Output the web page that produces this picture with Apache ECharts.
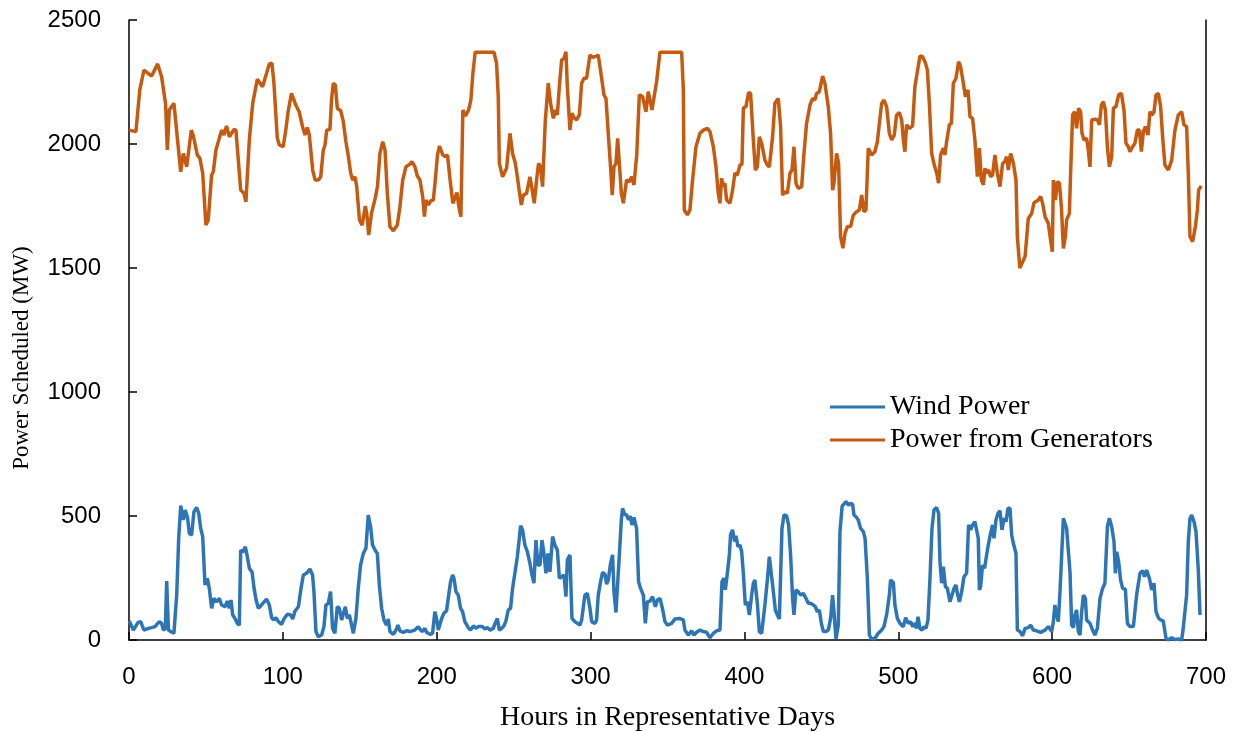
<!DOCTYPE html>
<html>
<head>
<meta charset="utf-8">
<script src="https://cdn.jsdelivr.net/npm/echarts@6/dist/echarts.min.js"></script>
<style>html,body{margin:0;padding:0;background:#fff}#c{width:1239px;height:732px}</style>
</head>
<body>
<div id="c"></div>
<script>
const seriesNames = ['Wind Power', 'Power from Generators'];
const xTicks = [0, 100, 200, 300, 400, 500, 600, 700];
const yTicks = [0, 500, 1000, 1500, 2000, 2500];

const windHours = [0.2,2.8,5.9,7.6,9.7,12.6,14.7,16.9,19.7,21.2,22.3,23.6,24.5,25.6,27.1,29.2,31.0,32.3,33.6,35.3,36.6,38.1,39.2,40.7,42.2,44.0,45.3,46.6,47.9,49.4,50.9,52.2,53.7,55.2,57.0,58.7,60.2,62.4,63.9,65.2,66.3,67.4,68.9,70.4,71.7,72.6,73.9,75.6,76.9,78.2,80.0,81.3,82.6,84.1,85.6,87.8,89.4,91.2,92.7,94.2,95.5,97.1,99.2,100.7,102.9,105.1,106.4,107.9,110.1,111.6,113.3,115.4,117.6,119.3,120.2,121.5,123.0,125.2,126.7,128.0,129.5,131.0,132.3,133.8,135.4,136.7,138.2,139.3,140.6,141.9,143.2,144.7,145.8,147.5,149.0,150.5,152.3,154.0,155.5,157.0,158.3,159.9,161.4,162.7,164.2,165.7,167.4,168.5,169.6,171.8,173.5,174.8,176.1,178.3,180.4,182.6,185.8,188.0,189.5,190.8,192.3,193.4,195.6,197.3,198.8,199.9,201.0,203.2,204.7,206.4,207.5,209.0,210.3,211.2,212.5,214.0,215.5,216.8,218.3,220.5,222.0,223.8,225.5,227.0,228.1,229.8,231.3,232.9,234.6,236.8,237.9,239.4,240.7,242.2,243.7,245.0,246.5,248.0,249.3,250.8,252.4,253.7,254.5,255.8,257.3,258.9,260.6,261.9,263.2,264.5,265.8,267.1,268.4,269.7,271.0,272.3,273.6,275.3,276.8,278.4,279.7,281.2,282.7,284.0,284.9,286.6,287.9,289.8,293.1,294.2,296.3,297.9,299.6,300.7,302.8,303.9,305.0,306.5,307.8,309.4,310.4,311.5,313.0,314.3,315.2,316.5,317.4,318.7,320.0,320.8,322.1,323.4,324.7,325.6,326.9,328.2,329.9,331.2,332.5,334.3,335.6,336.9,338.6,340.3,342.1,343.4,345.1,346.8,348.3,349.9,352.7,354.9,357.7,360.3,361.3,363.5,365.7,367.2,368.9,371.1,373.3,375.4,377.6,379.8,381.9,384.1,385.4,386.7,387.6,388.9,390.2,391.0,392.3,393.6,394.5,395.8,397.1,398.2,399.3,400.6,401.9,403.2,404.7,405.8,406.8,408.4,409.7,411.2,413.3,414.9,416.2,417.7,418.8,420.1,421.4,422.7,424.4,425.7,427.4,428.7,430.0,431.3,432.2,433.5,435.0,436.5,438.3,440.0,441.5,443.0,444.8,446.1,447.4,448.7,450.0,451.3,453.0,454.5,456.0,457.3,458.2,459.5,461.0,462.1,463.5,466.0,467.7,469.0,470.3,471.2,472.5,474.0,475.5,477.3,478.4,479.9,481.2,482.7,484.8,487.0,489.2,490.7,492.4,494.2,495.0,496.8,497.8,499.4,501.1,503.3,504.8,506.5,508.0,509.3,510.8,511.9,512.8,514.1,515.4,516.7,518.0,519.3,520.6,521.9,523.2,524.9,526.2,527.1,528.2,529.3,530.6,531.9,533.6,534.9,536.2,537.5,538.4,539.7,541.2,542.7,544.4,545.7,547.0,548.3,549.8,550.9,552.0,552.7,553.5,554.8,556.1,557.4,558.7,560.0,561.3,562.2,563.5,564.8,566.1,567.4,568.7,570.0,571.3,572.6,573.7,574.8,576.5,577.4,579.1,580.8,582.4,584.5,586.0,587.8,589.9,592.5,595.4,597.5,599.7,600.8,601.8,602.9,604.0,605.1,606.2,607.3,608.3,609.4,610.5,611.6,612.7,613.8,614.8,615.9,617.0,618.1,619.2,620.3,621.6,622.4,624.6,626.3,627.8,629.4,631.1,632.8,634.3,635.9,637.2,638.7,640.2,641.1,642.0,643.2,644.5,645.8,647.6,648.9,650.6,652.8,654.9,657.1,658.8,660.1,661.4,663.2,664.7,666.2,667.5,669.0,670.5,672.2,674.0,675.5,677.7,679.8,682.0,684.2,685.2,686.3,687.4,688.5,689.6,690.7,692.2,693.5,695.0,696.1];
const windMW = [77,40,71,74,40,47,50,54,74,67,40,47,238,40,34,27,181,410,542,484,524,491,430,423,517,534,511,450,417,222,249,208,128,168,154,168,141,134,157,128,161,101,87,67,60,363,354,376,336,289,273,208,161,128,138,154,165,141,90,81,90,74,63,85,104,101,85,117,134,200,262,269,286,262,195,34,13,20,54,141,148,195,47,27,134,128,81,81,134,87,101,60,27,87,208,302,349,370,504,457,383,363,349,222,128,81,60,85,34,23,40,60,37,31,37,34,40,54,40,34,47,31,23,27,114,87,40,87,108,118,168,235,262,249,195,181,128,114,74,50,40,57,47,54,47,54,44,50,40,47,67,87,40,47,57,77,121,128,208,269,336,410,461,444,383,356,309,262,229,403,302,302,403,349,269,349,275,417,383,363,249,255,262,175,323,343,87,74,60,81,181,188,128,74,67,81,181,235,273,265,225,242,309,343,195,111,114,343,484,531,507,504,484,501,464,494,450,235,208,181,67,154,157,175,134,161,168,125,75,60,67,85,87,81,40,20,37,20,31,40,34,31,9,27,37,40,235,249,202,269,343,426,444,397,420,376,383,356,269,141,154,101,181,229,242,148,34,27,141,242,336,255,195,121,101,85,450,504,501,464,343,168,101,202,195,181,188,168,148,148,141,134,114,121,67,34,34,40,87,181,114,4,60,437,540,558,544,551,547,504,497,484,450,437,410,249,20,4,7,27,40,54,101,181,242,232,141,87,67,54,90,67,74,54,67,47,94,47,40,54,47,81,249,450,524,534,511,316,229,296,215,208,154,181,208,222,188,154,195,255,269,464,444,464,477,480,410,202,215,302,289,343,390,430,464,410,484,511,521,444,491,477,531,531,423,390,349,40,34,17,47,50,60,40,37,31,40,54,34,74,141,101,74,195,343,491,497,450,457,275,60,50,101,121,34,20,114,181,168,81,67,40,20,47,168,208,229,457,491,457,397,269,356,316,242,208,205,67,54,54,181,269,279,255,282,249,202,229,114,90,81,77,7,0,9,2,4,0,47,54,181,397,491,504,477,437,282,101];

const genHours = [0,4.5,7.0,9.7,14.7,18.6,21.2,23.8,24.9,26.2,29.2,33.6,35.3,37.5,40.5,41.7,44.4,46.1,47.9,50.0,51.5,53.7,54.8,56.5,60.2,61.7,63.4,65.2,68.2,69.5,72.6,74.7,76.0,78.2,80.4,83.4,84.6,86.8,89.4,91.2,92.9,94.2,96.4,97.7,100.2,101.9,103.4,105.6,106.7,108.4,110.6,112.8,114.4,115.9,117.2,119.4,120.9,123.1,124.6,126.3,127.4,128.5,130.6,131.7,132.8,134.1,135.4,137.6,139.3,141.0,142.6,144.1,145.4,146.9,148.0,149.8,151.5,153.6,154.5,155.8,157.6,160.0,161.5,163.1,164.9,166.4,167.9,169.6,171.8,174.4,176.1,177.9,180.0,182.6,183.9,185.9,187.4,189.1,190.9,192.0,193.0,194.6,196.1,197.8,198.9,200.5,201.8,203.9,205.5,207.0,208.7,210.5,211.3,213.1,214.4,215.7,217.0,218.7,220.7,222.2,223.5,225.0,237.2,238.9,240.0,240.7,242.8,245.4,247.6,249.3,251.1,252.4,253.7,255.0,256.3,258.4,260.6,261.7,263.4,264.9,266.2,267.5,268.8,270.6,272.5,274.0,275.8,277.1,278.4,279.7,281.2,282.7,284.0,284.9,286.6,287.9,289.6,290.9,292.7,294.2,295.7,297.4,299.6,301.3,302.8,305.0,307.2,308.7,310.0,311.5,313.0,314.1,315.2,316.5,317.6,318.7,320.0,321.3,323.4,325.2,326.7,328.2,330.0,331.7,333.8,336.0,337.5,339.9,342.9,345.1,359.2,360.3,360.9,362.9,364.6,366.3,368.5,371.1,373.3,375.9,377.6,379.8,381.5,383.0,384.1,385.2,386.3,387.3,388.4,390.6,392.3,393.8,395.4,397.1,398.4,399.3,401.0,402.7,404.0,405.8,407.1,408.4,409.7,411.2,413.3,414.9,416.2,418.3,419.8,422.0,423.5,424.8,426.3,427.9,429.6,430.9,432.2,433.5,435.0,437.2,438.7,440.4,442.6,444.3,445.8,446.9,448.7,450.8,452.3,454.5,456.0,457.3,458.2,459.9,461.2,462.5,464.0,465.4,466.9,469.0,470.8,472.9,474.7,476.2,477.7,479.0,480.5,482.7,484.8,486.4,487.7,489.2,490.7,492.4,494.2,495.7,497.4,498.9,500.7,502.2,503.3,504.3,505.4,507.2,509.3,510.8,512.4,514.1,515.8,517.6,518.9,520.2,521.7,523.4,525.0,526.2,527.5,529.3,530.3,531.4,533.2,534.5,535.8,537.5,539.2,540.5,542.3,543.6,545.3,546.6,548.3,549.8,551.4,552.7,554.0,555.3,556.3,557.4,558.7,560.0,561.3,562.8,564.4,566.1,567.8,569.3,570.4,571.5,573.0,574.8,576.5,577.4,579.0,580.2,582.4,584.5,586.7,588.2,591.0,592.5,593.8,595.4,597.5,599.0,600.1,600.8,602.1,603.4,604.7,606.0,607.3,608.6,609.4,611.2,612.0,613.3,614.6,615.9,617.2,618.5,619.4,620.7,622.4,623.5,624.6,625.7,627.8,629.4,630.7,632.0,633.3,634.6,635.9,637.2,638.7,639.8,641.5,643.2,645.0,646.7,648.0,649.5,650.6,652.3,653.8,655.4,656.7,658.0,659.3,660.6,662.3,663.6,664.9,666.2,667.5,669.0,670.5,671.8,673.3,675.5,677.7,679.8,682.0,684.2,685.7,687.4,688.5,689.6,691.3,693.1,694.4,695.2,696.9];
const genMW = [2056,2050,2218,2298,2274,2323,2271,2160,1976,2137,2164,1888,1962,1908,2056,2036,1956,1942,1882,1673,1694,1875,1888,1976,2056,2036,2073,2029,2059,2056,1814,1801,1767,2016,2164,2261,2264,2231,2285,2323,2326,2245,2023,1996,1989,2056,2130,2204,2204,2157,2130,2070,2036,2067,2036,1895,1855,1855,1868,1976,1996,2056,2059,2184,2245,2238,2144,2134,2090,2009,1949,1882,1855,1868,1828,1694,1673,1750,1720,1633,1720,1781,1828,1962,2009,1976,1801,1667,1650,1673,1747,1855,1908,1919,1929,1908,1871,1855,1788,1707,1774,1754,1771,1774,1842,1956,1992,1956,1949,1956,1855,1761,1754,1804,1747,1707,2137,2113,2137,2177,2285,2370,2370,2325,2191,1922,1868,1902,2043,1962,1922,1868,1808,1754,1794,1801,1868,1828,1761,1855,1922,1908,1828,2097,2245,2164,2103,2137,2117,2231,2339,2345,2372,2231,2056,2124,2103,2097,2117,2245,2265,2265,2359,2349,2352,2359,2265,2198,2184,2043,1908,1794,1908,1922,2023,1922,1801,1761,1855,1848,1868,1835,1956,2198,2191,2130,2211,2137,2251,2370,2370,2218,1734,1714,1734,1855,1989,2043,2056,2063,2050,1989,1908,1801,1761,1862,1828,1842,1774,1761,1814,1882,1875,1915,1919,2144,2151,2207,2204,2016,1895,1908,2029,2003,1935,1915,1908,2029,2164,2184,2070,1794,1808,1801,1882,1895,1989,1842,1821,1828,1962,2083,2157,2184,2177,2204,2211,2274,2245,2151,2043,1814,1842,1962,1922,1626,1580,1640,1667,1667,1714,1727,1734,1794,1727,1734,1983,1956,1969,2009,2083,2164,2177,2151,2043,2016,2036,2117,2127,2097,2016,1969,2077,2063,2073,2231,2292,2355,2352,2328,2298,2164,1962,1915,1882,1842,1956,1983,1956,2009,2077,2083,2245,2265,2332,2312,2245,2191,2218,2110,2103,2016,1868,1983,1855,1835,1902,1882,1895,1868,1875,1956,1882,1828,1922,1929,1949,1895,1962,1922,1855,1626,1500,1505,1546,1700,1720,1763,1774,1788,1761,1707,1680,1613,1566,1855,1774,1848,1842,1747,1579,1626,1694,1720,1882,2117,2130,2063,2144,2130,2043,2016,2023,1976,1908,2097,2100,2097,2077,2157,2171,2137,1989,1908,1949,2144,2151,2198,2204,2137,2003,1989,1969,1989,2003,2056,2056,1969,2050,2070,2036,2130,2117,2130,2198,2204,2151,2029,1915,1895,1935,2056,2117,2130,2077,2070,1882,1626,1606,1667,1734,1814,1831];

const zip = (xs, ys) => xs.map((x, i) => [x, ys[i]]);
const serif = '"Liberation Serif", "Times New Roman", serif';
const sans = '"Liberation Sans", Arial, sans-serif';

const chart = echarts.init(document.getElementById('c'), null, {renderer: 'canvas'});
chart.setOption({
  animation: false,
  backgroundColor: '#fff',
  grid: {left: 129, right: 33, top: 20, bottom: 92, containLabel: false, outerBoundsMode: 'none'},
  xAxis: {
    type: 'value', min: xTicks[0], max: xTicks[xTicks.length - 1], interval: 100,
    name: 'Hours in Representative Days', nameLocation: 'middle', nameGap: 64,
    nameTextStyle: {fontFamily: serif, fontSize: 28, color: '#000'},
    axisLine: {show: true, onZero: false, lineStyle: {color: '#000', width: 1.5}},
    axisTick: {show: true, inside: true, length: 8, lineStyle: {color: '#000', width: 1.5}},
    axisLabel: {fontFamily: sans, fontSize: 24, color: '#000', margin: 25, formatter: v => String(v)},
    splitLine: {show: false}
  },
  yAxis: [{
    type: 'value', min: yTicks[0], max: yTicks[yTicks.length - 1], interval: 500,
    axisLine: {show: true, lineStyle: {color: '#000', width: 1.5}},
    axisTick: {show: true, inside: true, length: 8, lineStyle: {color: '#000', width: 1.5}},
    axisLabel: {fontFamily: sans, fontSize: 24, color: '#000', margin: 28, formatter: v => String(v)},
    splitLine: {show: false}
  }, {
    type: 'value', min: 0, max: 2500, position: 'right',
    axisLine: {show: true, lineStyle: {color: '#000', width: 1.5}},
    axisTick: {show: false}, axisLabel: {show: false}, splitLine: {show: false}
  }],
  legend: {
    orient: 'vertical', left: 825, top: 388, icon: 'rect', itemWidth: 55, itemHeight: 3,
    itemGap: 5, padding: 5,
    textStyle: {fontFamily: serif, fontSize: 28, color: '#000', lineHeight: 28},
    data: seriesNames
  },
  graphic: [{
    type: 'text', x: 22, y: 358, rotation: Math.PI / 2,
    style: {text: 'Power Scheduled (MW)', font: '23px ' + serif, fill: '#000', align: 'center', verticalAlign: 'middle'}
  }],
  series: [{
    name: seriesNames[0], type: 'line', showSymbol: false, symbol: 'none',
    data: zip(windHours, windMW),
    lineStyle: {color: '#2E75B6', width: 3.5}, itemStyle: {color: '#2E75B6'}
  }, {
    name: seriesNames[1], type: 'line', showSymbol: false, symbol: 'none',
    data: zip(genHours, genMW),
    lineStyle: {color: '#C55A11', width: 3.5}, itemStyle: {color: '#C55A11'}
  }]
});
</script>
</body>
</html>
